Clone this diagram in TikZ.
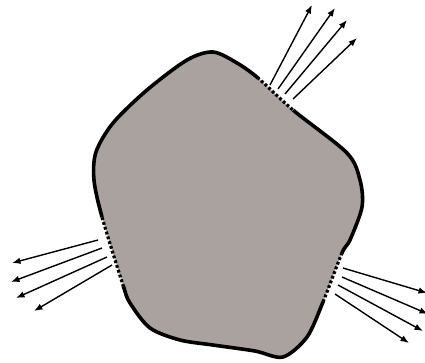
\documentclass[tikz,border=0pt]{standalone}
\usetikzlibrary{arrows.meta}
\definecolor{shapegray}{RGB}{170,162,158}
\tikzset{
  outlinesolid/.style={line width=3.6pt, line join=round},
  outlinedotted/.style={line width=3.2pt, dash pattern=on 2.8pt off 2.2pt},
  ray/.style={line width=1.4pt, -{Latex[length=8.5pt,width=6.5pt]}}
}
\begin{document}
\begin{tikzpicture}[x=1pt,y=-1pt]
\useasboundingbox (0,0) rectangle (425,362);
% body
\fill[shapegray] plot[smooth cycle, tension=0.5] coordinates {
 (213,52) (237,63) (258,78) (293,110) (347,153) (360,180) (362,207) (350,240)
 (342,253) (323,302) (307,337) (283,357) (255,351) (213,345) (180,340) (150,328)
 (130,303) (123,285) (102,217) (94,180) (96,152) (113,123) (147,90) (187,60)};
% solid outline (outside the gaps)
\begin{scope}[even odd rule]
\clip (-10,-10) rectangle (435,372)
  (275.5,94) circle[radius=24] (332.5,277.5) circle[radius=26] (112.5,251) circle[radius=35.5];
\draw[outlinesolid] plot[smooth cycle, tension=0.5] coordinates {
 (213,52) (237,63) (258,78) (293,110) (347,153) (360,180) (362,207) (350,240)
 (342,253) (323,302) (307,337) (283,357) (255,351) (213,345) (180,340) (150,328)
 (130,303) (123,285) (102,217) (94,180) (96,152) (113,123) (147,90) (187,60)};
\end{scope}
% dotted outline (gaps)
\begin{scope}
\clip (275.5,94) circle[radius=24] (332.5,277.5) circle[radius=26] (112.5,251) circle[radius=35.5];
\draw[outlinedotted] plot[smooth cycle, tension=0.5] coordinates {
 (213,52) (237,63) (258,78) (293,110) (347,153) (360,180) (362,207) (350,240)
 (342,253) (323,302) (307,337) (283,357) (255,351) (213,345) (180,340) (150,328)
 (130,303) (123,285) (102,217) (94,180) (96,152) (113,123) (147,90) (187,60)};
\end{scope}
% ray coordinates
\coordinate (t1s) at (270,85);  \coordinate (t1e) at (312,5);
\coordinate (t2s) at (278,89);  \coordinate (t2e) at (335,8);
\coordinate (t3s) at (285,94);  \coordinate (t3e) at (347,20);
\coordinate (t4s) at (293,99);  \coordinate (t4e) at (357,38);
\coordinate (l1s) at (98,240);  \coordinate (l1e) at (12,263);
\coordinate (l2s) at (102,248); \coordinate (l2e) at (11,282);
\coordinate (l3s) at (107,257); \coordinate (l3e) at (16,298);
\coordinate (l4s) at (112,265); \coordinate (l4e) at (34,311);
\coordinate (r1s) at (343,268); \coordinate (r1e) at (427,293);
\coordinate (r2s) at (342,277); \coordinate (r2e) at (428,314);
\coordinate (r3s) at (338,285); \coordinate (r3e) at (423,331);
\coordinate (r4s) at (335,294); \coordinate (r4e) at (409,343);
\foreach \n in {t1,t2,t3,t4,l1,l2,l3,l4,r1,r2,r3,r4}
  \draw[ray] (\n s) -- (\n e);
\end{tikzpicture}
\end{document}
